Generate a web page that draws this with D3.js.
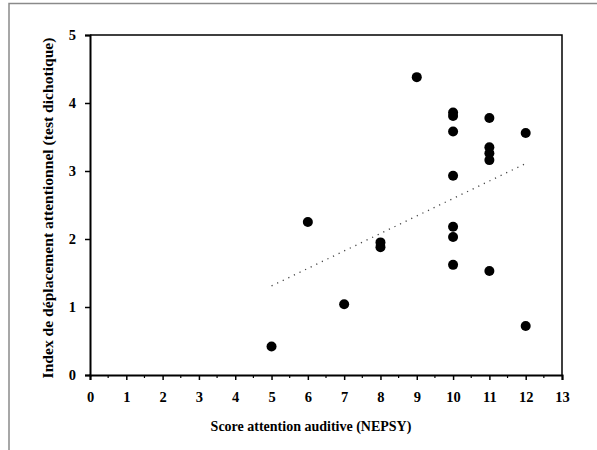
<!DOCTYPE html>
<html><head><meta charset="utf-8">
<script src="https://cdn.jsdelivr.net/npm/d3@7"></script>
<style>html,body{margin:0;padding:0;background:#fff}svg{display:block}</style>
</head><body>
<svg id="c" width="597" height="450"></svg>
<script>
const scoreX = [5, 6, 7, 8, 8, 9, 10, 10, 10, 10, 10, 10, 10, 11, 11, 11, 11, 11, 12, 12];
const indexY = [0.42, 2.25, 1.04, 1.95, 1.88, 4.38, 3.86, 3.81, 3.58, 2.93, 2.18, 2.03, 1.62, 3.78, 3.35, 3.26, 3.16, 1.53, 3.56, 0.72];
const trendX = [5, 12];
const trendY = [1.31, 3.11];
const xTicks = [0,1,2,3,4,5,6,7,8,9,10,11,12,13];
const xMinor = [0.5,1.5,2.5,3.5,4.5,5.5,6.5,7.5,8.5,9.5,10.5,11.5,12.5];
const yTicks = [0,1,2,3,4,5];
const xTitle = "Score attention auditive (NEPSY)";
const yTitle = "Index de déplacement attentionnel (test dichotique)";

const svg = d3.select("#c");
const font = "'Liberation Serif','Times New Roman',serif";
const L = 90, R = 562, T = 35, B = 375;
const x = d3.scaleLinear().domain([0, 13]).range([L, R]);
const y = d3.scaleLinear().domain([0, 5]).range([B, T]);

// outer frame
svg.append("rect").attr("x", 9).attr("y", 3.5).attr("width", 620).attr("height", 470)
  .attr("fill", "none").attr("stroke", "#8a8a8a").attr("stroke-width", 1.5);

// plot frame (top/right)
svg.append("path").attr("d", `M${L},${T}H${R}V${B}`).attr("fill", "none")
  .attr("stroke", "#000").attr("stroke-width", 1.5);

// x axis
const gx = svg.append("g").attr("transform", `translate(0,${B})`)
  .call(d3.axisBottom(x).tickValues(xTicks).tickSize(5).tickPadding(12).tickFormat(d3.format("d")));
gx.select(".domain").attr("stroke-width", 2);
gx.selectAll(".tick line").attr("stroke-width", 1.5);
gx.selectAll("text").attr("font-family", font).attr("font-weight", "bold").attr("font-size", 14.5).attr("fill", "#000");
gx.selectAll(".minor").data(xMinor).enter().append("line").attr("class", "minor")
  .attr("x1", d => x(d)).attr("x2", d => x(d)).attr("y1", 0).attr("y2", 3)
  .attr("stroke", "#000").attr("stroke-width", 1.2);

// y axis
const gy = svg.append("g").attr("transform", `translate(${L},0)`)
  .call(d3.axisLeft(y).tickValues(yTicks).tickSize(5).tickPadding(9).tickFormat(d3.format("d")));
gy.select(".domain").attr("stroke-width", 2);
gy.selectAll(".tick line").attr("stroke-width", 1.5);
gy.selectAll("text").attr("font-family", font).attr("font-weight", "bold").attr("font-size", 14.5).attr("fill", "#000");

// trend line (dotted)
const line = d3.line().x(d => x(d[0])).y(d => y(d[1]));
svg.append("path").datum(trendX.map((v, i) => [v, trendY[i]]))
  .attr("d", line).attr("fill", "none").attr("stroke", "#444")
  .attr("stroke-width", 1.3).attr("stroke-dasharray", "1.2,5");

// points
svg.append("g").selectAll("circle").data(scoreX.map((v, i) => [v, indexY[i]]))
  .enter().append("circle")
  .attr("cx", d => x(d[0])).attr("cy", d => y(d[1])).attr("r", 5).attr("fill", "#000");

// titles
svg.append("text").attr("x", 311).attr("y", 431).attr("text-anchor", "middle")
  .attr("font-family", font).attr("font-weight", "bold").attr("font-size", 14).text(xTitle);
svg.append("text").attr("transform", `translate(53,${(T + B) / 2 + 3}) rotate(-90)`).attr("text-anchor", "middle")
  .attr("font-family", font).attr("font-weight", "bold").attr("font-size", 15.6).text(yTitle);
</script>
</body></html>
